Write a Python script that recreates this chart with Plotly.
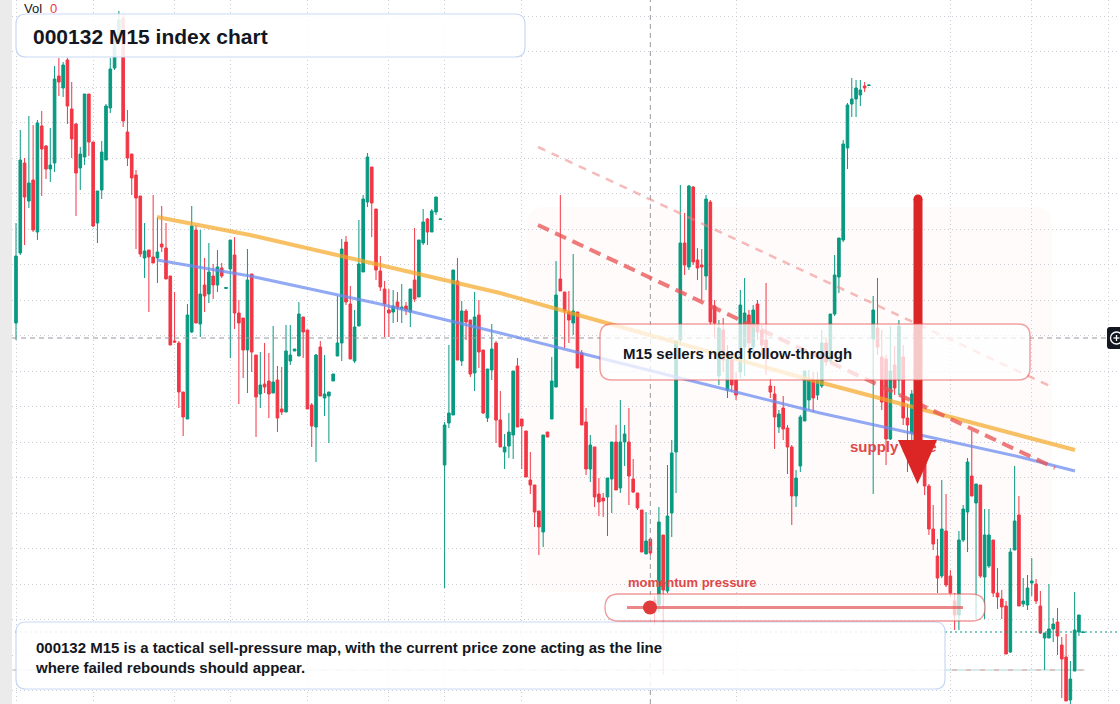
import plotly.graph_objects as go

# ---------------- data (index points, 15-minute bars) ----------------
open_ = [397,467,557,519,540,488,594,574,551,557, 644,632,660,611,596,552,563,626,578,497,
         530,560,612,652,678,702,588,566,545,524, 462,470,463,462,476,472,444,379,377,328,
         301,388,490,396,435,426,444,435,452,431.5, 451,465,407,402,370,446,365,326,336,339,
         327,340,311,308,359,369,364,403,390,315, 293,373,322,324,339,364,377,478,416,359,
         394,448,518,553,511,449,431,410,408,418, 411,414,408,440,423,477,501,488,508,500.5,
         255,297,305,439,359,409,400,347,405,370, 302,350,377,300,268,274,285,354,301,289,
         240,235,209,188,288,301,333,441,428,408, 397,408,367,298,251,273,226,222,223,241,
         278,232,278,278,241,227,210,166,181,120, 115,185,129,207,268,380,477,453,533,460,
         455,444,518,414,344,390,330,360,340,348, 373,405,373,416,390,380,334,326,293,312,
         292,273,224,254,299,320,340,325,334,377, 359,406,443,480,572,616,621,625,634,634.5,
         381,392,363,361,281,355,340,363,302,287, 300,285,270,234,191,164,144,189,144,119,
         105,180,208,244,217,235,143,154,180,127, 121,114,68,170,205,116,115,137,136,114,
         82,82,91,98,75,63,20,49,88,87.5]
high = [497,590,562,604,595,600,609,575,592,654, 662,658,662,638,597,573,626,626,578,529,
        579,616,662,685,709,705,610,566,550,524, 497,470,525,503,514,497,444,428,379,328,
        416,514,495,490,462,477,456,470,457,432.5, 480,483,420,402,471,446,365,368,377,367,
        394,354,353,395,395,371,418,403,390,317, 366,379,365,328,346,424,481,484,434,410,
        500,525,567,553,511,464,439,431,430,428, 436,418,431,492,480,511,502,511,523,501,
        298,375,450,462,419,411,400,428,420,370, 351,396,379,329,286,307,349,362,301,289,
        268,235,209,285,288,363,459,525,428,429, 466,408,370,312,285,273,242,227,242,278,
        295,320,295,312,261,227,210,208,181,124, 213,185,255,280,379,535,507,535,534,472,
        471,525,520,420,400,402,375,370,348,430, 442,410,415,420,395,437,342,334,310,324,
        295,275,250,305,349,350,348,348,390,382, 406,465,482,580,617,642,640,640,638,635,
        424,442,390,365,394,374,400,375,316,330, 310,287,280,236,215,181,240,226,150,127,
        189,215,262,289,236,235,211,211,180,152, 130,119,172,254,224,142,145,162,141,129,
        87,136,102,112,83,86,59,128,105,88]
low = [380,465,475,512,488,480,524,541,538,548, 624,623,596,562,504,530,555,564,493,477,
       521,560,607,650,675,593,554,525,471,463, 442,408,457,437,468,441,375,377,312,284,
       301,387,397,383,408,417,421,428,442,431.5, 362,391,316,342,327,348,283,312,327,302,
       327,288,305,308,355,369,364,362,311,273, 258,324,304,277,339,364,359,415,361,357,
       394,448,513,483,440,429,383,383,397,398, 397,405,393,418,423,475,475,488,505,500.5,
       132,292,305,360,354,380,343,329,352,306, 298,340,277,273,251,262,261,293,251,243,
       226,193,165,173,283,301,333,429,372,377, 385,352,295,245,238,213,204,203,184,207,
       230,227,254,215,227,210,168,166,165,95, 108,45,127,183,227,375,445,450,455,440,
       420,430,395,382,335,348,322,328,320,342, 344,370,368,380,365,345,322,271,287,280,
       246,195,213,248,299,310,308,320,332,354, 357,404,427,478,551,603,603,614,628,634.5,
       226,365,310,255,280,325,325,295,248,275, 270,260,225,185,170,127,142,133,123,90,
       90,178,168,224,101,142,101,152,123,111, 101,66,67,170,114,113,110,124,116,86,
       50,82,78,65,22,19,16,49,84,87.5]
close = [464,560,523,537,490,597,571,551,555,641, 638,655,614,581,547,566,626,578,494,529,
         568,614,651,680,700,599,562,542,522,466, 469,463,457,468,473,441,375,378,328,303,
         405,494,397,426,424,448,435,453,444,432.5, 480,407,397,370,440,368,323,335,333,326,
         338,302,308,369,365,371,406,388,311,294, 365,324,326,328,346,377,471,418,361,393,
         456,521,563,517,450,433,416,407,414,412, 413,410,431,421,480,498,488,509,523,501,
         295,307,450,360,409,398,346,403,368,307, 351,371,300,273,273,288,349,293,294,243,
         235,208,193,285,283,339,425,429,409,400, 409,352,295,251,275,223,218,219,242,278,
         230,278,286,244,228,212,168,179,167,108, 198,130,204,267,379,477,455,534,458,452,
         453,521,398,397,392,360,365,335,325,415, 407,377,410,388,375,362,328,303,306,291,
         273,224,242,303,349,340,322,340,377,358, 406,445,482,576,615,621,632,630,632,635,
         410,373,318,281,349,332,394,302,295,326, 280,267,234,191,176,142,191,135,127,105,
         180,211,258,224,236,144,185,185,127,123, 113,66,168,199,114,119,132,139,119,87,
         87,91,96,84,61,19,41,90,105,88]
bars = list(range(len(open_)))

time_grid = [0, 18, 37, 50, 68, 87, 100, 118, 168, 218, 237, 255]
crosshair_bar = 148
crosshair_level = 382
level_line = 50

title_text = "000132 M15 index chart"
callout_text = "M15 sellers need follow-through"
zone_text = "supply zone"
gauge_text = "momentum pressure"
note_text = ("000132 M15 is a tactical sell-pressure map, with the current price zone acting as the line"
             "<br>where failed rebounds should appear.")

# ---------------- geometry helpers ----------------
W, H = 1120, 704
BAR_PX, FIRST_PX = 4.286, 16.0
X0 = -FIRST_PX / BAR_PX
X1 = X0 + W / BAR_PX
Y0, Y1 = 16, 720
FONT = "Liberation Sans, Arial, sans-serif"
UP, DOWN = "#089981", "#f23645"
GRID = "#c9ccd3"


def bx(px):
    return (px - FIRST_PX) / BAR_PX


def vy(py):
    return Y1 - py * (Y1 - Y0) / H


def pp(px, py):
    return f"{px / W:.5f},{1 - py / H:.5f}"


def rrect(x0, y0, x1, y1, r):
    return (f"M{pp(x0 + r, y0)} L{pp(x1 - r, y0)} Q{pp(x1, y0)} {pp(x1, y0 + r)} "
            f"L{pp(x1, y1 - r)} Q{pp(x1, y1)} {pp(x1 - r, y1)} L{pp(x0 + r, y1)} "
            f"Q{pp(x0, y1)} {pp(x0, y1 - r)} L{pp(x0, y0 + r)} Q{pp(x0, y0)} {pp(x0 + r, y0)} Z")


def data_path(points):
    segs = [f"{bx(px):.3f},{vy(py):.2f}" for px, py in points]
    return "M" + " L".join(segs)


shapes = []
# faint supply zone tint
shapes.append(dict(type="path", xref="paper", yref="paper", path=rrect(527, 207, 1052, 592, 18),
                   fillcolor="rgba(245,212,196,0.09)", line=dict(width=0), layer="below"))
# crosshair
shapes.append(dict(type="line", xref="x", yref="paper", x0=crosshair_bar, x1=crosshair_bar, y0=0, y1=1,
                   line=dict(color="#9598a1", width=1, dash="5px,4px"), layer="above"))
shapes.append(dict(type="line", xref="paper", yref="y", x0=12 / W, x1=1107 / W,
                   y0=crosshair_level, y1=crosshair_level,
                   line=dict(color="#9598a1", width=1, dash="5px,4px"), layer="above"))
# level line and last price line
shapes.append(dict(type="line", xref="x", yref="y", x0=X0, x1=bars[-1] + 0.4, y0=level_line, y1=level_line,
                   line=dict(color="rgba(8,153,129,0.35)", width=1), layer="above"))
shapes.append(dict(type="line", xref="x", yref="y", x0=X0, x1=bars[-1] + 0.4, y0=level_line, y1=level_line,
                   line=dict(color="rgba(242,54,69,0.45)", width=1, dash="5px,9px"), layer="above"))
shapes.append(dict(type="line", xref="paper", yref="y", x0=0, x1=1, y0=close[-1], y1=close[-1],
                   line=dict(color=UP, width=1, dash="2px,3px"), layer="above"))
# trend lines
shapes.append(dict(type="path", xref="x", yref="y",
                   path=data_path([(157, 217), (250, 235), (380, 265), (500, 293), (610, 324),
                                   (800, 377), (1075, 450)]),
                   line=dict(color="rgba(245,166,35,0.7)", width=4), layer="above"))
shapes.append(dict(type="path", xref="x", yref="y",
                   path=data_path([(157, 260), (250, 276), (380, 304), (500, 333), (600, 358),
                                   (660, 373), (820, 413), (1020, 457), (1075, 471)]),
                   line=dict(color="rgba(110,140,240,0.75)", width=3), layer="above"))
shapes.append(dict(type="line", xref="x", yref="y", x0=bx(538), y0=vy(225), x1=bx(1055), y1=vy(468),
                   line=dict(color="rgba(232,80,80,0.75)", width=4, dash="12px,7px"), layer="above"))
shapes.append(dict(type="line", xref="x", yref="y", x0=bx(538), y0=vy(147), x1=bx(1052), y1=vy(387),
                   line=dict(color="rgba(240,130,130,0.55)", width=2.5, dash="8px,7px"), layer="above"))
# red arrow
ARROW = "#dc2626"
shapes.append(dict(type="line", xref="paper", yref="paper", x0=918 / W, x1=918 / W,
                   y0=1 - 199 / H, y1=1 - 448 / H, line=dict(color=ARROW, width=9), layer="above"))
shapes.append(dict(type="circle", xref="paper", yref="paper", x0=913.5 / W, x1=922.5 / W,
                   y0=1 - 203.5 / H, y1=1 - 194.5 / H, fillcolor=ARROW, line=dict(width=0), layer="above"))
shapes.append(dict(type="path", xref="paper", yref="paper",
                   path=f"M{pp(898, 440)} L{pp(937, 440)} L{pp(917.5, 484)} Z",
                   fillcolor=ARROW, line=dict(width=0), layer="above"))
# boxes
shapes.append(dict(type="path", xref="paper", yref="paper", path=rrect(16, 14, 525, 57, 10),
                   fillcolor="rgba(255,255,255,0.88)", line=dict(color="#c9d9f6", width=1.2), layer="above"))
shapes.append(dict(type="path", xref="paper", yref="paper", path=rrect(16, 622, 945, 689, 10),
                   fillcolor="rgba(255,255,255,0.88)", line=dict(color="#c9d9f6", width=1.2), layer="above"))
shapes.append(dict(type="path", xref="paper", yref="paper", path=rrect(600, 324, 1030, 380, 12),
                   fillcolor="rgba(255,255,255,0.75)", line=dict(color="rgba(230,70,70,0.5)", width=1.5),
                   layer="above"))
shapes.append(dict(type="path", xref="paper", yref="paper", path=rrect(605, 594, 985, 621, 13.5),
                   fillcolor="rgba(255,255,255,0.72)", line=dict(color="rgba(230,70,70,0.55)", width=1.3),
                   layer="above"))
shapes.append(dict(type="line", xref="paper", yref="paper", x0=627 / W, x1=963 / W, y0=1 - 607.5 / H,
                   y1=1 - 607.5 / H, line=dict(color="rgba(225,70,70,0.65)", width=3), layer="above"))
shapes.append(dict(type="circle", xref="paper", yref="paper", x0=643 / W, x1=657 / W, y0=1 - 614.5 / H,
                   y1=1 - 600.5 / H, fillcolor="#e03a3a", line=dict(width=0), layer="above"))
# left gray strip
shapes.append(dict(type="rect", xref="paper", yref="paper", x0=0, x1=12 / W, y0=0, y1=1,
                   fillcolor="#ebebeb", line=dict(width=0), layer="above"))
# crosshair "+" button on the right edge
shapes.append(dict(type="path", xref="paper", yref="paper", path=rrect(1107, 327, 1130, 349, 3),
                   fillcolor="#131722", line=dict(width=0), layer="above"))
shapes.append(dict(type="circle", xref="paper", yref="paper", x0=1110.5 / W, x1=1122.5 / W,
                   y0=1 - 344 / H, y1=1 - 332 / H, line=dict(color="white", width=1.3), layer="above"))
shapes.append(dict(type="line", xref="paper", yref="paper", x0=1113.5 / W, x1=1119.5 / W,
                   y0=1 - 338 / H, y1=1 - 338 / H, line=dict(color="white", width=1.3), layer="above"))
shapes.append(dict(type="line", xref="paper", yref="paper", x0=1116.5 / W, x1=1116.5 / W,
                   y0=1 - 335 / H, y1=1 - 341 / H, line=dict(color="white", width=1.3), layer="above"))


def ann(text, px, py, size, color, bold=False, xanchor="left"):
    return dict(text=f"<b>{text}</b>" if bold else text, x=px / W, y=1 - py / H, xref="paper", yref="paper",
                xanchor=xanchor, yanchor="middle", showarrow=False, align="left",
                font=dict(family=FONT, size=size, color=color))


annotations = [
    ann("Vol", 22, 8.5, 13, "#131722"),
    ann("0", 48, 8.5, 13, DOWN),
    ann(title_text, 31, 36, 21, "#131722", bold=True),
    ann(callout_text, 621, 353, 15, "#131722", bold=True),
    ann(gauge_text, 626, 582, 13, "#e04848", bold=True),
    ann(note_text, 33, 657.5, 15, "#131722", bold=True),
]

fig = go.Figure()
fig.add_trace(go.Candlestick(
    x=bars, open=open_, high=high, low=low, close=close,
    increasing=dict(line=dict(color=UP, width=1), fillcolor=UP),
    decreasing=dict(line=dict(color=DOWN, width=1), fillcolor=DOWN),
    whiskerwidth=0, hoverinfo="skip", showlegend=False))
fig.add_trace(go.Scatter(
    x=[bx(850)], y=[vy(448)], mode="text", text=[f"<b>{zone_text}</b>"],
    textposition="middle right", textfont=dict(family=FONT, size=15, color="#e04848"),
    hoverinfo="skip", showlegend=False))

fig.update_layout(
    width=W, height=H, margin=dict(l=0, r=0, t=0, b=0),
    paper_bgcolor="white", plot_bgcolor="white",
    showlegend=False, hovermode=False,
    boxgap=0.22, boxgroupgap=0.22,
    xaxis=dict(range=[X0, X1], showticklabels=False, ticks="", zeroline=False,
               tickmode="array", tickvals=time_grid, showgrid=True,
               gridcolor=GRID, griddash="1px,3px", gridwidth=1,
               rangeslider=dict(visible=False), fixedrange=True),
    yaxis=dict(range=[Y0, Y1], showticklabels=False, ticks="", zeroline=False,
               tick0=703.7, dtick=35.5, showgrid=True,
               gridcolor=GRID, griddash="1px,3px", gridwidth=1, fixedrange=True),
    shapes=shapes, annotations=annotations,
)

fig.write_html("out.html")
